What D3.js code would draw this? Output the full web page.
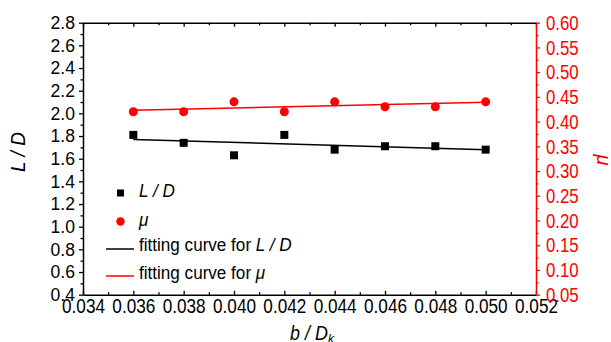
<!DOCTYPE html>
<html>
<head>
<meta charset="utf-8">
<script src="https://cdn.jsdelivr.net/npm/d3@7"></script>
<style>
  html, body { margin: 0; padding: 0; background: #fff; }
  svg { display: block; }
  text { font-family: "Liberation Sans", Arial, sans-serif; }
</style>
</head>
<body>
<div id="chart"></div>
<script>
// values
const bRatio = [0.036, 0.038, 0.040, 0.042, 0.044, 0.046, 0.048, 0.050];
const ldValues = [1.81, 1.74, 1.63, 1.81, 1.68, 1.71, 1.71, 1.68];
const muValues = [0.42, 0.42, 0.44, 0.42, 0.44, 0.43, 0.43, 0.44];
const fitX = [0.036, 0.050];
const ldFit = [1.77, 1.68];
const muFit = [0.423, 0.439];

const xTicks = d3.range(0.034, 0.0521, 0.002);
const xMinor = d3.range(0.035, 0.052, 0.002);
const ldTicks = d3.range(0.4, 2.81, 0.2);
const ldMinor = d3.range(0.5, 2.8, 0.2);
const muTicks = d3.range(0.05, 0.601, 0.05);
const muMinor = d3.range(0.075, 0.6, 0.05);

const width = 611, height = 342;
const plotLeft = 83, plotRight = 536, plotTop = 22.7, plotBottom = 294.7;

const x = d3.scaleLinear().domain([0.034, 0.052]).range([plotLeft, plotRight]);
const yL = d3.scaleLinear().domain([0.4, 2.8]).range([plotBottom, plotTop]);
const yR = d3.scaleLinear().domain([0.05, 0.60]).range([plotBottom, plotTop]);

const svg = d3.create("svg")
    .attr("width", width)
    .attr("height", height);

function style(g, color, size) {
    g.selectAll("path.domain").attr("stroke", color).attr("stroke-width", 1.5);
    g.selectAll(".tick line").attr("stroke", color).attr("stroke-width", 1.3);
    g.selectAll(".tick text").attr("fill", color).attr("font-size", size);
}

// the original labels are a narrow face; squeeze them horizontally
function squeeze(g, sx) {
    g.selectAll(".tick text").each(function() {
        const t = d3.select(this);
        const x0 = +t.attr("x") || 0;
        t.attr("x", x0 / sx).attr("transform", `scale(${sx},1)`);
    });
}

// bottom axis, ticks inward
svg.append("g")
    .attr("transform", `translate(0,${plotBottom})`)
    .call(d3.axisBottom(x).tickValues(xTicks).tickFormat(d3.format(".3f"))
        .tickSizeInner(-4).tickSizeOuter(0).tickPadding(4))
    .call(g => { style(g, "#000", 19.5); squeeze(g, 0.88); });
svg.append("g")
    .attr("transform", `translate(0,${plotBottom})`)
    .call(d3.axisBottom(x).tickValues(xMinor).tickFormat("").tickSizeInner(-2.5).tickSizeOuter(0))
    .call(g => { g.select(".domain").remove(); style(g, "#000", 18); });

// top axis, no labels
svg.append("g")
    .attr("transform", `translate(0,${plotTop})`)
    .call(d3.axisTop(x).tickValues(xTicks).tickFormat("").tickSizeInner(-4).tickSizeOuter(0))
    .call(g => style(g, "#000", 18));
svg.append("g")
    .attr("transform", `translate(0,${plotTop})`)
    .call(d3.axisTop(x).tickValues(xMinor).tickFormat("").tickSizeInner(-2.5).tickSizeOuter(0))
    .call(g => { g.select(".domain").remove(); style(g, "#000", 18); });

// left axis
svg.append("g")
    .attr("transform", `translate(${plotLeft},0)`)
    .call(d3.axisLeft(yL).tickValues(ldTicks).tickFormat(d3.format(".1f"))
        .tickSizeInner(4).tickSizeOuter(0).tickPadding(4))
    .call(g => { style(g, "#000", 18.5); squeeze(g, 0.95); });
svg.append("g")
    .attr("transform", `translate(${plotLeft},0)`)
    .call(d3.axisLeft(yL).tickValues(ldMinor).tickFormat("").tickSizeInner(2.5).tickSizeOuter(0))
    .call(g => { g.select(".domain").remove(); style(g, "#000", 18); });

// right axis, red
svg.append("g")
    .attr("transform", `translate(${plotRight},0)`)
    .call(d3.axisRight(yR).tickValues(muTicks).tickFormat(d3.format(".2f"))
        .tickSizeInner(4).tickSizeOuter(0).tickPadding(6))
    .call(g => { style(g, "#ff0000", 21); squeeze(g, 0.8); });
svg.append("g")
    .attr("transform", `translate(${plotRight},0)`)
    .call(d3.axisRight(yR).tickValues(muMinor).tickFormat("").tickSizeInner(2.5).tickSizeOuter(0))
    .call(g => { g.select(".domain").remove(); style(g, "#ff0000", 21); });

// axis titles
svg.append("text")
    .attr("transform", `translate(25,152) rotate(-90) scale(0.95,1)`)
    .attr("text-anchor", "middle")
    .attr("font-size", 20)
    .attr("font-style", "italic")
    .text("L / D");

svg.append("text")
    .attr("transform", `translate(597,160) rotate(90)`)
    .attr("text-anchor", "middle")
    .attr("font-size", 20)
    .attr("font-style", "italic")
    .attr("fill", "#ff0000")
    .text("μ");

const xTitle = svg.append("text")
    .attr("transform", "translate(312,340) scale(0.92,1)")
    .attr("text-anchor", "middle")
    .attr("font-size", 19.5)
    .attr("font-style", "italic");
xTitle.append("tspan").text("b / D");
xTitle.append("tspan").attr("font-size", 13).attr("dy", 3).text("k");

// fitting curves
const line = (ys, scale) => d3.line().x((d, i) => x(fitX[i])).y(d => scale(d))(ys);
svg.append("path").attr("d", line(ldFit, yL))
    .attr("fill", "none").attr("stroke", "#000").attr("stroke-width", 1.5);
svg.append("path").attr("d", line(muFit, yR))
    .attr("fill", "none").attr("stroke", "#ff0000").attr("stroke-width", 1.5);

// markers
svg.append("g").selectAll("rect")
    .data(bRatio)
    .join("rect")
    .attr("x", (d, i) => x(d) - 4)
    .attr("y", (d, i) => yL(ldValues[i]) - 4)
    .attr("width", 8)
    .attr("height", 8)
    .attr("fill", "#000");

svg.append("g").selectAll("circle")
    .data(bRatio)
    .join("circle")
    .attr("cx", d => x(d))
    .attr("cy", (d, i) => yR(muValues[i]))
    .attr("r", 4.5)
    .attr("fill", "#ff0000");

// legend
const legend = svg.append("g").attr("font-size", 19);
const sq = "scale(0.9,1)";
legend.append("rect").attr("x", 117).attr("y", 189.5).attr("width", 7).attr("height", 7).attr("fill", "#000");
legend.append("text").attr("transform", `translate(139,197) ${sq}`).attr("font-style", "italic").text("L / D");
legend.append("circle").attr("cx", 120.5).attr("cy", 221.5).attr("r", 4.2).attr("fill", "#ff0000");
legend.append("text").attr("transform", `translate(139,226) ${sq}`).attr("font-style", "italic").text("μ");
legend.append("line").attr("x1", 106).attr("x2", 134).attr("y1", 249).attr("y2", 249)
    .attr("stroke", "#000").attr("stroke-width", 1.5);
const t1 = legend.append("text").attr("transform", `translate(139,251) ${sq}`);
t1.append("tspan").text("fitting curve for ");
t1.append("tspan").attr("font-style", "italic").text("L / D");
legend.append("line").attr("x1", 106).attr("x2", 134).attr("y1", 276).attr("y2", 276)
    .attr("stroke", "#ff0000").attr("stroke-width", 1.5);
const t2 = legend.append("text").attr("transform", `translate(139,279) ${sq}`);
t2.append("tspan").text("fitting curve for ");
t2.append("tspan").attr("font-style", "italic").text("μ");

d3.select("#chart").append(() => svg.node());
</script>
</body>
</html>
